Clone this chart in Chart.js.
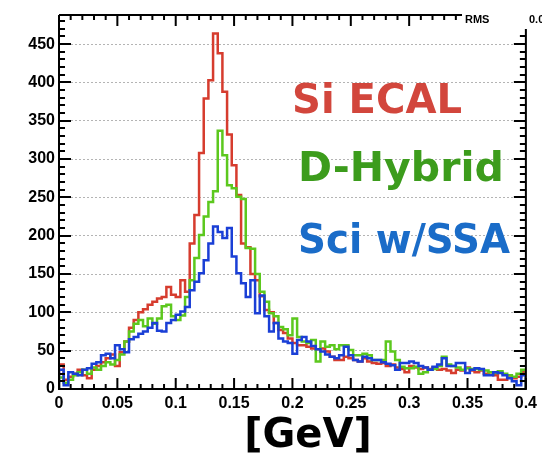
<!DOCTYPE html>
<html>
<head>
<meta charset="utf-8">
<script src="https://cdn.jsdelivr.net/npm/chart.js@4/dist/chart.umd.min.js"></script>
<style>
html,body{margin:0;padding:0;background:#fff;}
#wrap{position:relative;width:542px;height:456px;}
</style>
</head>
<body>
<div id="wrap"><canvas id="c" width="542" height="456"></canvas></div>
<script>
// Histogram: 100 bins of 0.004 GeV from 0 to 0.4
const binStart = 0;
const binWidth = 0.004;
const siEcal = [32,12,16,20,25,18,14,25,30,35, 40,45,30,48,62,80,90,100,104,110,
  114,118,120,133,123,120,142,127,190,227, 308,379,403,464,438,388,332,292,253,190,
  185,150,142,121,103,100,86,77,73,66, 60,57,57,55,53,52,53,49,42,38,
  38,42,40,38,36,40,36,34,33,34, 30,32,28,26,22,30,28,26,28,26,
  28,25,26,24,21,25,24,28,24,22, 24,20,22,18,12,12,15,14,16,22];
const dHybrid = [15,8,12,18,22,25,20,28,25,30, 35,32,38,45,62,75,85,90,82,92,
  85,92,108,110,95,90,96,120,142,171, 201,225,244,258,337,305,266,262,251,248,
  184,183,150,127,114,99,95,81,78,70, 92,68,62,60,64,36,62,55,57,52,
  57,57,51,44,44,46,44,38,38,38, 62,49,38,29,27,27,29,20,22,25,
  26,30,42,32,30,28,25,27,26,26, 25,24,22,21,23,20,18,16,20,25];
const sciSSA = [25,5,22,20,18,25,27,33,35,44, 46,40,57,52,48,65,68,72,75,80,
  86,76,75,86,90,97,101,107,129,140, 151,168,190,212,205,197,210,173,151,138,
  120,142,99,122,95,75,86,66,62,60, 46,64,68,62,56,52,49,45,42,40,
  44,55,44,38,36,42,40,38,38,35, 33,31,25,34,34,36,34,30,28,25,
  29,32,40,30,30,34,34,21,25,27, 26,18,18,22,21,18,14,10,5,18];
const seriesNames = ['Si ECAL','D-Hybrid','Sci w/SSA'];
const yTickLabels = ['0','50','100','150','200','250','300','350','400','450'];
const xTickLabels = ['0','0.05','0.1','0.15','0.2','0.25','0.3','0.35','0.4'];
const xAxisTitle = '[GeV]';

function toSteps(vals){
  const pts = [{x: binStart, y: 0}];
  vals.forEach((v,k)=>pts.push({x: binStart + k*binWidth, y: v}));
  const end = binStart + vals.length*binWidth;
  pts.push({x: end, y: vals[vals.length-1]});
  pts.push({x: end, y: 0});
  return pts;
}

const RED='#d63c2e', GREEN='#5cc81e', BLUE='#1a3fd6';
const frameTicks = {
  id:'frameTicks',
  afterDraw(chart){
    const {ctx, chartArea:a, scales:{x, y}} = chart;
    ctx.save();
    ctx.strokeStyle='#000'; ctx.lineWidth=2;
    ctx.beginPath();
    for(let v=0; v<=y.max; v+=10){
      const py = Math.round(y.getPixelForValue(v));
      const L = (v%50===0)?12:6;
      ctx.moveTo(a.left, py); ctx.lineTo(a.left+L, py);
      if(py>30){ ctx.moveTo(a.right, py); ctx.lineTo(a.right-L, py); }
    }
    for(let i=0;i<=40;i++){
      const v=i*0.01;
      const px = x.getPixelForValue(v);
      const L = (i%5===0)?11:5;
      ctx.moveTo(px, a.bottom); ctx.lineTo(px, a.bottom-L);
      if(px<462){ ctx.moveTo(px, a.top); ctx.lineTo(px, a.top+L); }
    }
    ctx.stroke();
    ctx.lineWidth=2;
    ctx.beginPath();
    ctx.moveTo(a.left, a.top); ctx.lineTo(462, a.top);
    ctx.moveTo(a.right, 29); ctx.lineTo(a.right, a.bottom);
    ctx.lineTo(a.left, a.bottom); ctx.lineTo(a.left, a.top);
    ctx.stroke();
    // stats box fragment
    ctx.fillStyle='#fff';
    ctx.fillRect(463, 0, 79, 28);
    ctx.fillStyle='#000';
    ctx.font='bold 11px "Liberation Sans", Arial, sans-serif';
    ctx.textBaseline='alphabetic';
    ctx.fillText('RMS', 465, 23);
    ctx.fillText('0.0', 529, 23);
    // series labels
    ctx.font='bold 41px "DejaVu Sans", sans-serif';
    ctx.fillStyle='#d2463c'; ctx.fillText(seriesNames[0], 292, 113, 170);
    ctx.fillStyle='#3c9c1c'; ctx.fillText(seriesNames[1], 298, 181, 207);
    ctx.fillStyle='#1a6cc8'; ctx.fillText(seriesNames[2], 298, 253, 212);
    // axis title
    ctx.fillStyle='#000';
    ctx.font='bold 40px "DejaVu Sans", sans-serif';
    ctx.textAlign='center';
    ctx.fillText(xAxisTitle, 308, 447);
    ctx.restore();
  }
};

new Chart(document.getElementById('c'), {
  type:'line',
  data:{datasets:[
    {label:seriesNames[2], data:toSteps(sciSSA), borderColor:BLUE},
    {label:seriesNames[1], data:toSteps(dHybrid), borderColor:GREEN},
    {label:seriesNames[0], data:toSteps(siEcal), borderColor:RED}
  ].map(d=>Object.assign(d,{stepped:true, borderWidth:2.5, pointRadius:0, fill:false, tension:0}))},
  options:{
    responsive:false, animation:false,
    layout:{padding:{top:15,right:14,left:0,bottom:0}},
    plugins:{legend:{display:false}, tooltip:{enabled:false}},
    scales:{
      x:{type:'linear', min:0, max:0.4,
        afterFit(s){ s.height = 67; },
        grid:{display:false, drawTicks:false}, border:{display:false},
        ticks:{stepSize:0.05, includeBounds:false, maxRotation:0, autoSkip:false, padding:5, color:'#000',
          font:{family:'"Liberation Sans", Arial, sans-serif', weight:'bold', size:16},
          callback:(v)=>{ const i=Math.round(v/0.05); return xTickLabels[i]; }}},
      y:{min:0, max:488,
        afterFit(s){ s.width = 59; },
        grid:{drawTicks:false, color:(c)=> (c.tick && c.tick.value===0)?'rgba(0,0,0,0)':'#b4b4b4', lineWidth:1, borderDash:[2,2]},
        border:{display:false, dash:[2,2]},
        ticks:{stepSize:50, includeBounds:false, padding:4, color:'#000',
          font:{family:'"Liberation Sans", Arial, sans-serif', weight:'bold', size:16},
          callback:(v)=>yTickLabels[Math.round(v/50)]}}
    }
  },
  plugins:[frameTicks]
});
</script>
</body>
</html>
